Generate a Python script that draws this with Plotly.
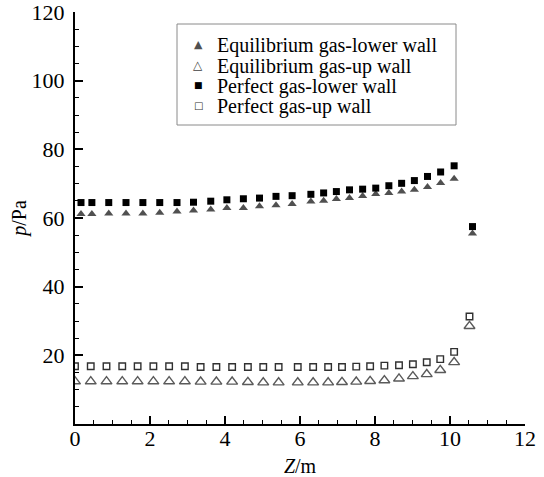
import plotly.graph_objects as go

# Axial station (m) of the lower-wall and upper-wall sampling points
z_lower = [0.16, 0.45, 0.90, 1.36, 1.81, 2.26, 2.72, 3.16, 3.62, 4.05, 4.49, 4.92,
           5.36, 5.79, 6.29, 6.63, 6.97, 7.32, 7.67, 8.02, 8.37, 8.71, 9.05, 9.40,
           9.75, 10.11, 10.60]
z_up = [0.00, 0.42, 0.84, 1.26, 1.67, 2.09, 2.51, 2.93, 3.35, 3.77, 4.19, 4.61,
        5.02, 5.43, 5.94, 6.35, 6.75, 7.12, 7.50, 7.87, 8.25, 8.64, 9.01, 9.38,
        9.74, 10.11, 10.52]

# Wall pressure (Pa)
p_eq_lower = [61.2, 61.2, 61.3, 61.3, 61.3, 61.5, 61.9, 62.2, 62.5, 62.9, 62.9, 63.4,
              63.7, 64.1, 64.8, 65.0, 65.5, 65.8, 66.4, 67.0, 67.3, 67.7, 68.2, 69.0,
              70.2, 71.4, 55.5]
p_eq_up = [12.4, 12.4, 12.4, 12.4, 12.4, 12.4, 12.4, 12.4, 12.3, 12.3, 12.3, 12.2,
           12.1, 12.1, 12.1, 12.1, 12.1, 12.2, 12.3, 12.5, 12.7, 13.2, 13.9, 14.5,
           15.7, 18.0, 28.5]
p_pg_lower = [64.5, 64.5, 64.5, 64.5, 64.5, 64.5, 64.5, 64.6, 64.9, 65.3, 65.6, 65.8,
              66.3, 66.5, 66.9, 67.3, 67.7, 68.2, 68.4, 68.7, 69.4, 70.1, 70.9, 72.1,
              73.4, 75.2, 57.5]
p_pg_up = [16.8, 16.8, 16.8, 16.8, 16.8, 16.8, 16.8, 16.8, 16.6, 16.6, 16.6, 16.6,
           16.6, 16.6, 16.6, 16.6, 16.6, 16.6, 16.7, 16.8, 17.0, 17.1, 17.4, 18.0,
           18.9, 21.0, 31.3]

series_names = ["Equilibrium gas-lower wall", "Equilibrium gas-up wall",
                "Perfect gas-lower wall", "Perfect gas-up wall"]
legend_glyphs = ["\u25B2", "\u25B3", "\u25A0", "\u25A1"]
legend_colors = ["#505050", "#404040", "#000000", "#303030"]
legend_sizes = [11, 12, 9, 10]

x_ticks = [0, 2, 4, 6, 8, 10, 12]
y_ticks = [20, 40, 60, 80, 100, 120]

FONT = "Liberation Serif"

fig = go.Figure()
fig.add_trace(go.Scatter(
    x=z_lower, y=p_eq_lower, mode="markers", name=series_names[0],
    marker=dict(symbol="triangle-up", size=8, color="#505050", line=dict(width=0))))
fig.add_trace(go.Scatter(
    x=z_up, y=p_eq_up, mode="markers", name=series_names[1],
    marker=dict(symbol="triangle-up-open", size=9.5, color="#5a5a5a", line=dict(width=1.4))))
fig.add_trace(go.Scatter(
    x=z_lower, y=p_pg_lower, mode="markers", name=series_names[2],
    marker=dict(symbol="square", size=7, color="#000000", line=dict(width=0))))
fig.add_trace(go.Scatter(
    x=z_up, y=p_pg_up, mode="markers", name=series_names[3],
    marker=dict(symbol="square-open", size=6.5, color="#303030", line=dict(width=1.4))))

axis_common = dict(
    showline=True, linewidth=2, linecolor="black",
    ticks="inside", ticklen=8, tickwidth=2, tickcolor="black",
    showgrid=False, zeroline=False, automargin=False,
    ticklabeloverflow="allow",
    tickfont=dict(family=FONT, size=22, color="black"),
)

# Plot-area geometry in pixels, used to place the key box
W, H = 544, 477
ML, MR, MT, MB = 75, 19, 12, 53
PW, PH = W - ML - MR, H - MT - MB


def px_x(px):
    return (px - ML) / PW


def px_y(py):
    return (H - MB - py) / PH


# Key: framed box with a symbol and a label per series
shapes = [dict(type="rect", xref="paper", yref="paper",
               x0=px_x(177), x1=px_x(456), y0=px_y(125), y1=px_y(24),
               line=dict(color="#8a8a8a", width=1), fillcolor="white", layer="above")]
annotations = []
row_y = [44.5, 65, 85.5, 105.5]
for name, glyph, col, gsz, ry in zip(series_names, legend_glyphs, legend_colors,
                                     legend_sizes, row_y):
    annotations.append(dict(
        xref="paper", yref="paper", x=px_x(198), y=px_y(ry),
        text=glyph, showarrow=False, xanchor="center", yanchor="middle",
        font=dict(family="DejaVu Sans", size=gsz, color=col)))
    annotations.append(dict(
        xref="paper", yref="paper", x=px_x(215), y=px_y(ry + 1),
        text=name, showarrow=False, xanchor="left", yanchor="middle",
        font=dict(family=FONT, size=20, color="black")))

fig.update_layout(
    template="none",
    width=W, height=H,
    margin=dict(l=ML, r=MR, t=MT, b=MB, pad=0),
    paper_bgcolor="white", plot_bgcolor="white",
    font=dict(family=FONT, color="black"),
    showlegend=False,
    xaxis=dict(
        range=[0, 12], tickmode="array", tickvals=x_ticks, ticklabelstandoff=-6,
        minor=dict(ticks="inside", ticklen=4, tickwidth=1, tickcolor="black",
                   tickmode="linear", tick0=0, dtick=0.5, showgrid=False),
        title=dict(text="<i>Z</i>/m", font=dict(family=FONT, size=20), standoff=20),
        **axis_common,
    ),
    yaxis=dict(
        range=[0, 120], tickmode="array", tickvals=y_ticks, ticklabelstandoff=4,
        minor=dict(ticks="inside", ticklen=4, tickwidth=1, tickcolor="black",
                   tickmode="linear", tick0=0, dtick=5, showgrid=False),
        title=dict(text="<i>p</i>/Pa", font=dict(family=FONT, size=20), standoff=0),
        **axis_common,
    ),
    shapes=shapes,
    annotations=annotations,
)

fig.write_html("out.html")
